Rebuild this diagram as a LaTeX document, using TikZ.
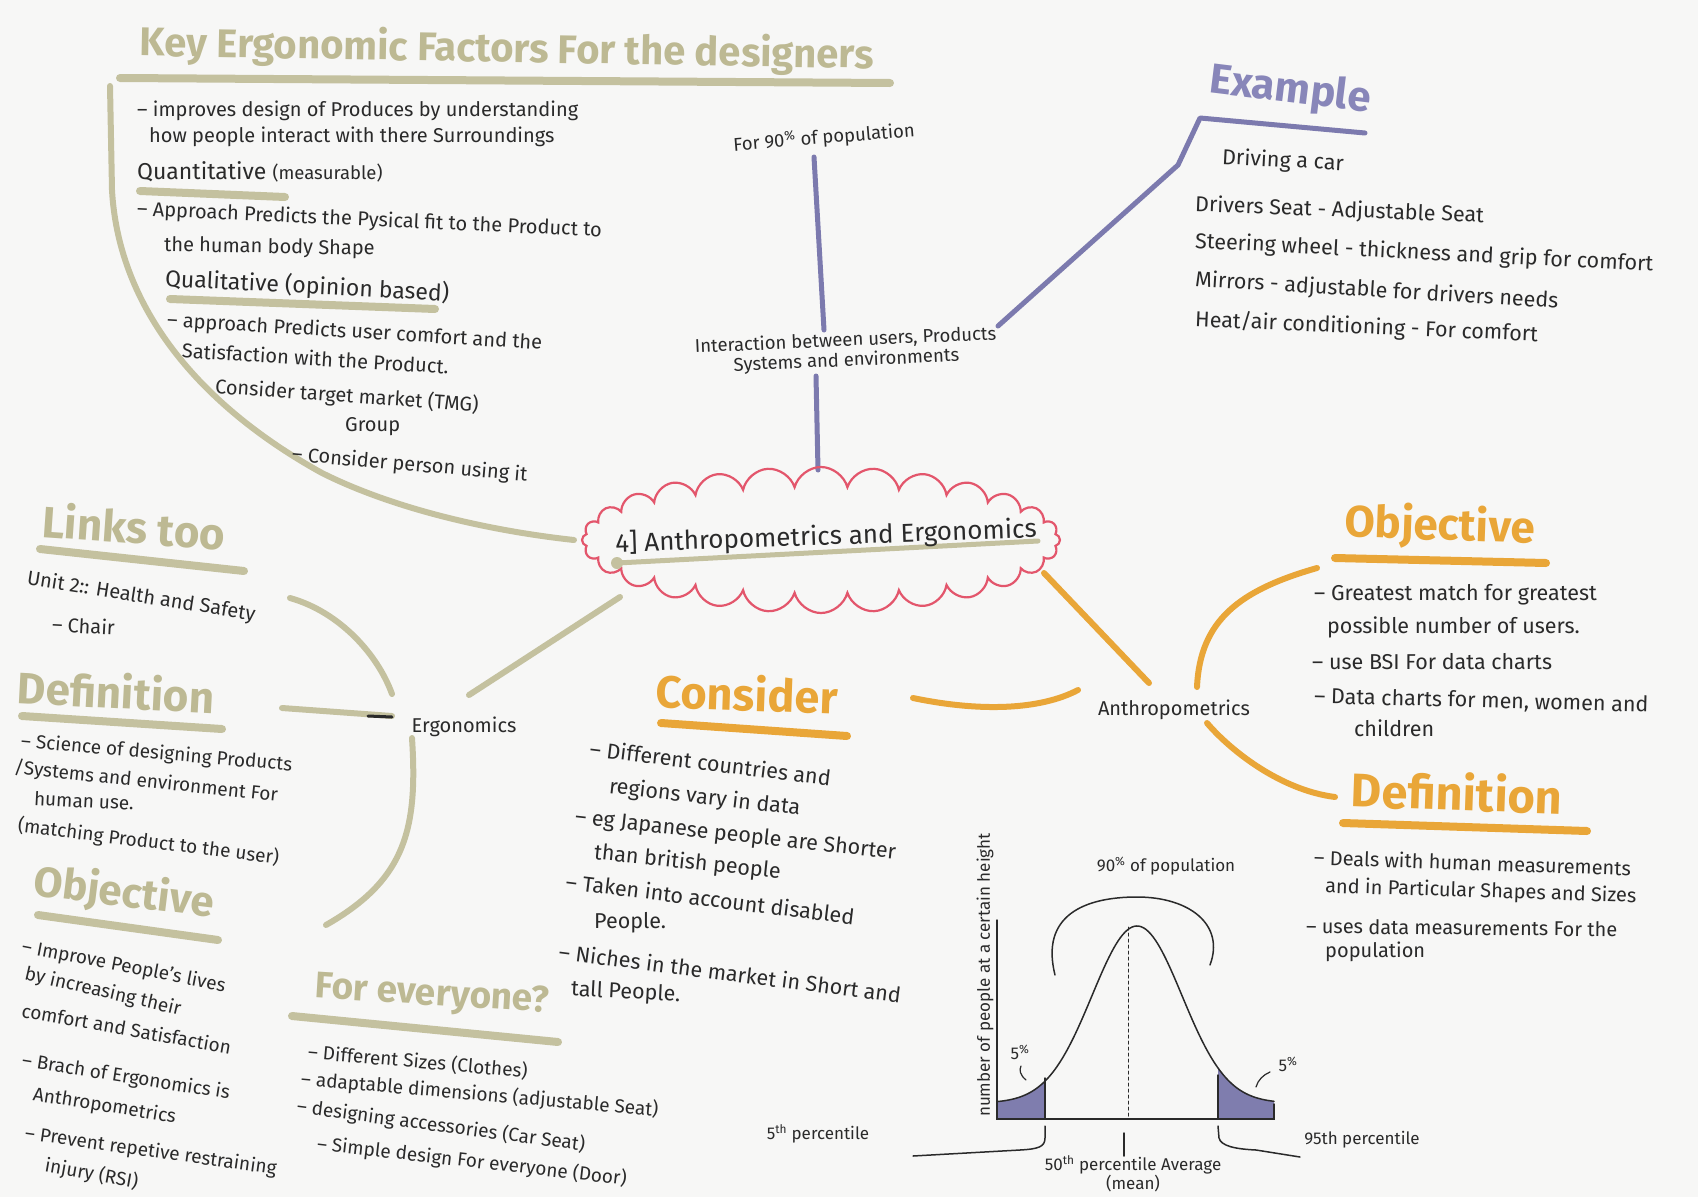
\documentclass[tikz,border=0pt]{standalone}
\usepackage{fontspec}
\setmainfont{Fira Sans}
\usetikzlibrary{shapes.symbols}
\definecolor{paper}{HTML}{F7F7F6}
\definecolor{khaki}{HTML}{C4C19F}
\definecolor{khakit}{HTML}{BDB993}
\definecolor{lilac}{HTML}{7C7AAE}
\definecolor{lilact}{HTML}{8886B9}
\definecolor{amber}{HTML}{E9A638}
\definecolor{cloudred}{HTML}{E3566C}
\definecolor{ink}{HTML}{2A2A2A}
\definecolor{shadefill}{HTML}{7F7DAE}
\tikzset{
  txt/.style={anchor=west, inner sep=0pt, text=ink, font=\fontsize{20}{23}\selectfont},
  txtl/.style={txt, font=\fontsize{21.5}{24}\selectfont},
  txts/.style={txt, font=\fontsize{19}{22}\selectfont},
  bigtxt/.style={anchor=west, inner sep=0pt, text=ink, font=\fontsize{23}{26}\selectfont},
  lbl/.style={inner sep=0pt, text=ink, font=\fontsize{18.5}{20}\selectfont},
  glbl/.style={inner sep=0pt, text=ink, font=\fontsize{17}{19}\selectfont},
  midtxt/.style={inner sep=0pt, text=ink, font=\fontsize{20}{24}\selectfont},
  ttl/.style={inner sep=0pt, font=\fontsize{#1}{#1}\selectfont\bfseries},
  kline/.style={draw=khaki, line width=6pt, line cap=round},
  pline/.style={draw=lilac, line width=5pt, line cap=round, line join=round},
  oline/.style={draw=amber, line width=6pt, line cap=round},
  kunder/.style={draw=khaki, line width=8pt, line cap=round},
  ounder/.style={draw=amber, line width=8pt, line cap=round},
  pen/.style={draw=ink, line width=1.5pt, line cap=round},
}
\begin{document}
\begin{tikzpicture}[x=1pt,y=-1pt]
\fill[paper] (0,0) rectangle (1698,1197);
\useasboundingbox (0,0) rectangle (1698,1197);

% ---------- top-left block ----------
\draw[kunder] (120,78) -- (890,83);
\node[ttl=40, text=khakit, anchor=west, rotate=-1] (ktitle) at (140,44) {Key Ergonomic Factors For the designers};
\coordinate (kA) at (110,86);
\coordinate (kB) at (574,540);
\draw[kline] (kA) -- (112,190) .. controls (118,300) and (190,400) .. (322,473) .. controls (400,512) and (500,532) .. (kB);

\node[txt] (k1) at (137,111) {-- improves design of Produces by understanding};
\node[txt] (k2) at (149,137) {how people interact with there Surroundings};
\draw[kunder] (140,191) -- (285,197);
\node[bigtxt] (k3) at (137,172) {Quantitative {\fontsize{18.5}{20}\selectfont (measurable)}};
\node[txt, rotate=-2.6] (k4) at (137,210) {-- Approach Predicts the Pysical fit to the Product to};
\node[txt, rotate=-1] (k5) at (164,246) {the human body Shape};
\draw[kunder] (170,299) -- (435,309);
\node[bigtxt, rotate=-3] (k6) at (165,279) {Qualitative (opinion based)};
\node[txt, rotate=-3.5] (k7) at (167,321) {-- approach Predicts user comfort and the};
\node[txt, rotate=-3.5] (k8) at (182,350) {Satisfaction with the Product.};
\node[txt, rotate=-4] (k9) at (215,387) {Consider target market (TMG)};
\node[txt] (k10) at (345,427) {Group};
\node[txt, rotate=-5] (k11) at (292,455) {-- Consider person using it};

% ---------- purple branch ----------
\node[lbl, rotate=4.7] (pop) at (824,138) {For 90\textsuperscript{\%} of population};
\node[lbl, align=center, rotate=2.5] (inter) at (846,351) {Interaction between users, Products\\Systems and environments};
\coordinate (pT) at (814,157);
\coordinate (pB) at (824,330);
\draw[pline] (pT) -- (pB);
\coordinate (pC) at (816,376);
\coordinate (pD) at (818,470);
\draw[pline] (pC) -- (pD);
\coordinate (eA) at (998,326);
\coordinate (eB) at (1365,133);
\draw[pline] (eA) -- (1178,165) -- (1200,118) -- (eB);
\node[ttl=42, text=lilact, rotate=-7] (ex) at (1290,91) {Example};
\node[txtl, rotate=-3] (e1) at (1222,158) {Driving a car};
\node[txtl, rotate=-2.3] (e2) at (1195,205) {Drivers Seat - Adjustable Seat};
\node[txtl, rotate=-2.9] (e3) at (1195,242) {Steering wheel - thickness and grip for comfort};
\node[txtl, rotate=-3.5] (e4) at (1195,280) {Mirrors - adjustable for drivers needs};
\node[txtl, rotate=-2.5] (e5) at (1195,320) {Heat/air conditioning - For comfort};

% ---------- centre ----------
\node[cloud, draw=cloudred, line width=2.2pt, cloud puffs=28, cloud puff arc=150, aspect=3.3, minimum width=478pt, minimum height=146pt, inner sep=0pt] (core) at (821,540) {};
\draw[draw=khaki, line width=5pt, line cap=round] (617,563) -- (1038,541);
\fill[khaki] (617,563) circle (6);
\node[inner sep=0pt, text=ink, font=\fontsize{26}{29}\selectfont, rotate=2] (coretxt) at (826,537) {4] Anthropometrics and Ergonomics};

% ---------- ergonomics (left) ----------
\node[midtxt] (ergo) at (464,727) {Ergonomics};
\draw[kline] (469,695) -- (620,597);
\draw[kline] (290,598) .. controls (340,612) and (378,655) .. (392,694);
\draw[kline] (282,708) -- (392,716);
\draw[pen, line width=3pt] (368,716) -- (392,717);
\draw[kline] (412,738) .. controls (418,830) and (405,880) .. (326,925);

\draw[kunder] (40,549) -- (244,571);
\node[ttl=44, text=khakit, rotate=-4] (links) at (134,526) {Links too};
\node[txt, rotate=-9] (u1) at (27,579) {Unit 2:: Health and Safety};
\node[txt, rotate=-3] (u2) at (52,624) {-- Chair};

\draw[kunder] (22,716) -- (222,729);
\node[ttl=44, text=khakit, rotate=-3] (defl) at (116,691) {Definition};
\node[txts, rotate=-5] (d1) at (21,742) {-- Science of designing Products};
\node[txts, rotate=-6] (d2) at (14,768) {/Systems and environment For};
\node[txts, rotate=-3] (d3) at (34,798) {human use.};
\node[txts, rotate=-7] (d4) at (18,826) {(matching Product to the user)};

\draw[kunder] (38,915) -- (218,940);
\node[ttl=42, text=khakit, rotate=-7] (objl) at (124,894) {Objective};
\node[txts, rotate=-11] (o1) at (22,947) {-- Improve People's lives};
\node[txts, rotate=-13] (o2) at (25,974) {by increasing their};
\node[txts, rotate=-10] (o3) at (22,1010) {comfort and Satisfaction};
\node[txts, rotate=-9] (o4) at (22,1061) {-- Brach of Ergonomics is};
\node[txts, rotate=-9] (o5) at (33,1095) {Anthropometrics};
\node[txts, rotate=-8] (o6) at (25,1134) {-- Prevent repetive restraining};
\node[txts, rotate=-10] (o7) at (45,1166) {injury (RSI)};

\draw[kunder] (292,1016) -- (558,1042);
\node[ttl=37, text=khakit, rotate=-3.5] (fe) at (432,996) {For everyone?};
\node[txts, rotate=-5] (f1) at (308,1052) {-- Different Sizes (Clothes)};
\node[txts, rotate=-5] (f2) at (301,1079) {-- adaptable dimensions (adjustable Seat)};
\node[txts, rotate=-7.5] (f3) at (297,1107) {-- designing accessories (Car Seat)};
\node[txts, rotate=-6.5] (f4) at (317,1144) {-- Simple design For everyone (Door)};

% ---------- anthropometrics (right) ----------
\node[midtxt] (anth) at (1174,710) {Anthropometrics};
\draw[oline] (1044,573) -- (1149,683);
\draw[oline] (913,698) .. controls (980,712) and (1040,710) .. (1078,690);
\draw[oline] (1197,687) .. controls (1200,620) and (1240,590) .. (1317,568);
\draw[oline] (1207,723) .. controls (1230,750) and (1280,790) .. (1335,797);

\draw[ounder] (661,723) -- (847,736);
\node[ttl=45, text=amber, rotate=-2] (cons) at (747,693) {Consider};
\node[txtl, rotate=-7] (c1) at (590,748) {-- Different countries and};
\node[txtl, rotate=-6.6] (c2) at (609,787) {regions vary in data};
\node[txtl, rotate=-6.3] (c3) at (575,818) {-- eg Japanese people are Shorter};
\node[txtl, rotate=-6] (c4) at (594,853) {than british people};
\node[txtl, rotate=-7] (c5) at (566,881) {-- Taken into account disabled};
\node[txtl] (c6) at (594,923) {People.};
\node[txtl, rotate=-7.3] (c7) at (559,951) {-- Niches in the market in Short and};
\node[txtl, rotate=-3] (c8) at (571,990) {tall People.};

\draw[ounder] (1335,558) -- (1546,563);
\node[ttl=44, text=amber, rotate=-2] (objr) at (1440,527) {Objective};
\node[txtl] (r1) at (1314,595) {-- Greatest match for greatest};
\node[txtl] (r2) at (1327,627) {possible number of users.};
\node[txtl] (r3) at (1312,662) {-- use BSI For data charts};
\node[txtl, rotate=-1.5] (r4) at (1314,697) {-- Data charts for men, women and};
\node[txtl] (r5) at (1354,728) {children};

\draw[ounder] (1343,823) -- (1587,831);
\node[ttl=47, text=amber, rotate=-2] (defr) at (1457,792) {Definition};
\node[txt, rotate=-2] (s1) at (1314,857) {-- Deals with human measurements};
\node[txt, rotate=-1.8] (s2) at (1325,887) {and in Particular Shapes and Sizes};
\node[txt, rotate=-0.6] (s3) at (1306,926) {-- uses data measurements For the};
\node[txt] (s4) at (1325,952) {population};

% ---------- distribution graph ----------
\fill[shadefill] (997,1119) -- plot[domain=997:1045, samples=30] (\x, {1119-(16+177*exp(-0.5*((\x-1137)/45)^2))}) -- (1045,1119) -- cycle;
\fill[shadefill] (1218,1119) -- plot[domain=1218:1274, samples=30] (\x, {1119-(16+177*exp(-0.5*((\x-1137)/45)^2))}) -- (1274,1119) -- cycle;
\draw[pen] plot[domain=997:1274, samples=120] (\x, {1119-(16+177*exp(-0.5*((\x-1137)/45)^2))});
\draw[pen] (997,920) -- (997,1119) -- (1274,1119) -- (1274,1104);
\draw[pen] (1045,1119) -- (1045,1078);
\draw[pen] (1218,1119) -- (1218,1075);
\draw[pen, line width=1pt, dashed] (1128,927) -- (1128,1119);
\draw[pen] (1055,975) .. controls (1040,915) and (1085,897) .. (1137,897) .. controls (1190,897) and (1225,925) .. (1210,965);
\draw[pen] (1045,1126) -- (1045,1138) .. controls (1045,1147) and (1038,1149) .. (1020,1150) -- (913,1156);
\draw[pen] (1218,1126) -- (1219,1138) .. controls (1221,1146) and (1235,1149) .. (1256,1150) -- (1300,1157);
\draw[pen] (1124,1133) -- (1124,1156);
\node[glbl] (g90) at (1166,866) {90\textsuperscript{\%} of population};
\node[glbl, rotate=90] (gy) at (985,975) {number of people at a certain height};
\node[glbl] (g5l) at (1020,1052) {5\textsuperscript{\%}};
\draw[pen, line width=1.2pt] (1026,1080) .. controls (1020,1075) and (1019,1070) .. (1021,1066);
\node[glbl] (g5r) at (1288,1064) {5\textsuperscript{\%}};
\draw[pen, line width=1.2pt] (1256,1087) .. controls (1258,1080) and (1263,1075) .. (1270,1072);
\node[glbl] (g5th) at (818,1134) {5\textsuperscript{th} percentile};
\node[glbl] (g95) at (1362,1140) {95th percentile};
\node[glbl, align=center] (g50) at (1133,1174) {50\textsuperscript{th} percentile Average\\(mean)};
\end{tikzpicture}
\end{document}
